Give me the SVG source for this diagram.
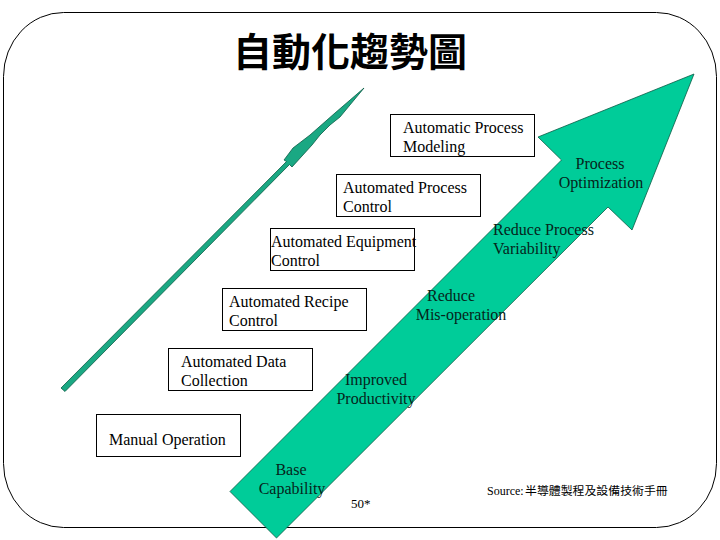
<svg xmlns="http://www.w3.org/2000/svg" width="720" height="540" viewBox="0 0 720 540">
<style>
text{font-family:"Liberation Serif","Noto Sans CJK TC",serif;font-size:16px;fill:#000}
.box{fill:#fff;stroke:#000;stroke-width:1}
.dark{fill:#06251b}
</style>
<rect width="720" height="540" fill="#fff"/>
<rect id="frame" x="3.500" y="12.500" width="713" height="515" rx="60" ry="64" fill="#fff" stroke="#000" stroke-width="1"/>
<g id="connectors">
<polygon id="big-arrow" points="694,74 632,230 608,207 276.500,538 230,491.500 561.500,160 538,137" fill="#00cc99" stroke="#0a5c45" stroke-width="0.8"/>
<polygon id="thin-arrow" points="364,88 340,117 330,125 320,135 312,145 292,167 289.500,164.500 65,391.500 61,388 286.500,161.500 284,160 293,148 310,135 335,113" fill="#1aa883" stroke="#0a5c45" stroke-width="0.8"/>
</g>
<text id="title" x="233" y="66" style="font-family:'Noto Sans CJK TC',sans-serif;font-size:39px;font-weight:700">自動化趨勢圖</text>
<g id="box-modeling"><rect class="box" x="390.500" y="114.500" width="144" height="42"/><text x="403" y="133">Automatic Process</text><text x="403" y="152">Modeling</text></g>
<g id="box-process"><rect class="box" x="336.500" y="174.500" width="144" height="42"/><text x="343" y="193">Automated Process</text><text x="343" y="212">Control</text></g>
<g id="box-equipment"><rect class="box" x="270.500" y="228.500" width="144" height="42"/><text x="271" y="247">Automated Equipment</text><text x="271" y="266">Control</text></g>
<g id="box-recipe"><rect class="box" x="222.500" y="288.500" width="144" height="42"/><text x="229" y="307">Automated Recipe</text><text x="229" y="326">Control</text></g>
<g id="box-data"><rect class="box" x="168.500" y="348.500" width="144" height="42"/><text x="181" y="367">Automated Data</text><text x="181" y="386">Collection</text></g>
<g id="box-manual"><rect class="box" x="96.500" y="414.500" width="144" height="42"/><text x="109" y="445">Manual Operation</text></g>
<g id="label-optimization" text-anchor="middle"><text class="dark" x="600" y="169">Process</text><text class="dark" x="601" y="188">Optimization</text></g>
<g id="label-variability"><text class="dark" x="493" y="235">Reduce Process</text><text class="dark" x="493" y="254">Variability</text></g>
<g id="label-misoperation" text-anchor="middle"><text class="dark" x="451" y="301">Reduce</text><text class="dark" x="461" y="320">Mis-operation</text></g>
<g id="label-productivity" text-anchor="middle"><text class="dark" x="376" y="385">Improved</text><text class="dark" x="376" y="404">Productivity</text></g>
<g id="label-base" text-anchor="middle"><text class="dark" x="291" y="475">Base</text><text class="dark" x="292" y="494">Capability</text></g>
<text id="source" x="487" y="495" style="font-size:12px">Source: <tspan x="525" style="font-size:11.900px">半導體製程及設備技術手冊</tspan></text>
<text id="page" x="351" y="508" style="font-size:13px">50*</text>
</svg>
